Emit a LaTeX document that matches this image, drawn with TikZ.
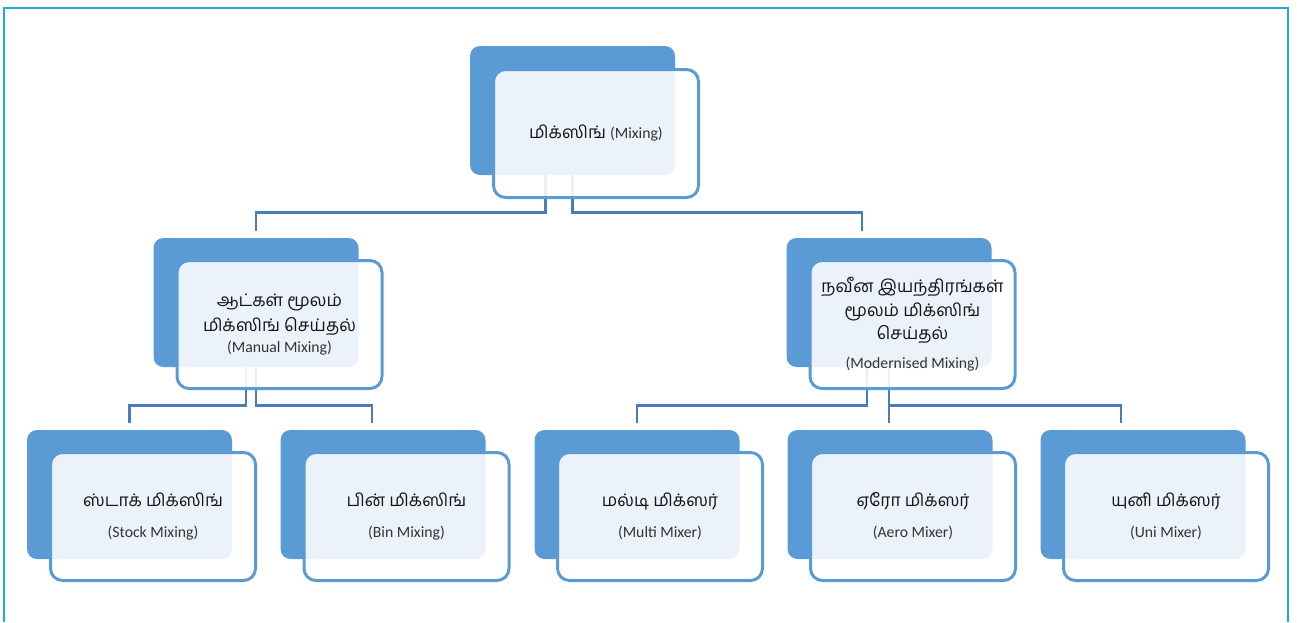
\documentclass[tikz,border=0pt]{standalone}
\usepackage{fontspec}
\setmainfont{Carlito}
\newfontfamily\tamil[Script=Tamil]{Hind Madurai}
\usepackage{xcolor}
\usepackage{tikz}

\definecolor{boxblue}{RGB}{91,155,213}
\definecolor{linkblue}{RGB}{72,124,186}
\definecolor{framecyan}{RGB}{30,172,208}

\tikzset{
  backbox/.style={fill=boxblue, rounded corners=7.5pt, minimum width=153.75pt, minimum height=96.75pt, inner sep=0pt},
  frontbox/.style={draw=boxblue, line width=2.25pt, fill=white, fill opacity=0.88, text opacity=1, rounded corners=9pt, minimum width=153.75pt, minimum height=96pt, inner sep=2pt, align=center, text=black!92, font=\fontsize{13}{18.75}\selectfont},
  link/.style={draw=linkblue, line width=2pt, shorten >=5.25pt},
}
\newcommand{\ta}[1]{{\tamil\fontsize{13}{18.75}\selectfont #1}}
\newcommand{\en}[1]{{\fontsize{11.8}{14}\selectfont\color{black!80}#1}}

\begin{document}
\begin{tikzpicture}[x=0.75pt,y=0.75pt,yscale=-1,xscale=1]
\useasboundingbox (0,0) rectangle (1297,622);

% frame
\draw [framecyan, line width=1.5pt] (3.5,622) -- (3.5,7.5) -- (1287.5,7.5) -- (1287.5,622);

% back boxes
\node [backbox] (mixingbg) at (572.5,110.5) {};
\node [backbox] (manualbg) at (256,302.5) {};
\node [backbox] (modernbg) at (889,302.5) {};
\node [backbox] (stockbg) at (129.5,494.5) {};
\node [backbox] (binbg) at (383,494.5) {};
\node [backbox] (multibg) at (637,494.5) {};
\node [backbox] (aerobg) at (890,494.5) {};
\node [backbox] (unibg) at (1143,494.5) {};

% connectors
\draw [link] ([xshift=-20.25pt]mixingbg.south) -- ++(0,37) -| (manualbg.north);
\draw [link] (mixingbg.south) -- ++(0,37) -| ([xshift=-20.25pt]modernbg.north);
\draw [link] ([xshift=-7.5pt]manualbg.south) -- ++(0,38) -| (stockbg.north);
\draw [link] (manualbg.south) -- ++(0,38) -| ([xshift=-8.25pt]binbg.north);
\draw [link] ([xshift=-16.5pt]modernbg.south) -- ++(0,38) -| (multibg.north);
\draw [link] (modernbg.south) -- ++(0,38) -| ([xshift=-16.5pt]unibg.north);
\draw [link] (modernbg.south) -- (modernbg.south |- aerobg.north);

% front boxes
\node [frontbox] (mixing) at (596,133.5) {\ta{மிக்ஸிங்} \en{(Mixing)}};
\node [frontbox] (manual) at (279.5,324.5) {\ta{ஆட்கள் மூலம்}\\\ta{மிக்ஸிங் செய்தல்}\\[-3pt]\en{(Manual Mixing)}};
\node [frontbox] (modern) at (912.5,324.5) {\ta{நவீன இயந்திரங்கள்}\\[-1pt]\ta{மூலம் மிக்ஸிங்}\\[-1pt]\ta{செய்தல்}\\[3pt]\en{(Modernised Mixing)}};
\node [frontbox] (stock) at (153,516.5) {\ta{ஸ்டாக் மிக்ஸிங்}\\[4.5pt]\en{(Stock Mixing)}};
\node [frontbox] (bin) at (406.5,516.5) {\ta{பின் மிக்ஸிங்}\\[4.5pt]\en{(Bin Mixing)}};
\node [frontbox] (multi) at (660,516.5) {\ta{மல்டி மிக்ஸர்}\\[4.5pt]\en{(Multi Mixer)}};
\node [frontbox] (aero) at (913,516.5) {\ta{ஏரோ மிக்ஸர்}\\[4.5pt]\en{(Aero Mixer)}};
\node [frontbox] (uni) at (1166,516.5) {\ta{யுனி மிக்ஸர்}\\[4.5pt]\en{(Uni Mixer)}};

\end{tikzpicture}
\end{document}
